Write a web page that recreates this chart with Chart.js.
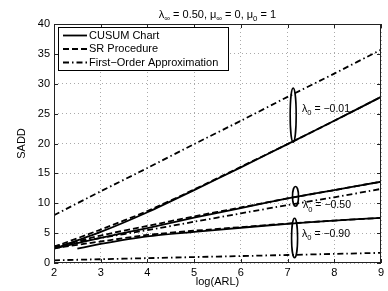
<!DOCTYPE html>
<html>
<head>
<meta charset="utf-8">
<script src="https://cdn.jsdelivr.net/npm/chart.js@4.4.0/dist/chart.umd.min.js"></script>
<style>
  body { margin: 0; background: #fff; }
  #wrap { width: 388px; height: 291px; }
</style>
</head>
<body>
<div id="wrap"><canvas id="myChart" width="388" height="291"></canvas></div>
<script>
// values, log(ARL) on x, SADD on y
var logArl = [2, 3, 4, 5, 6, 7, 8, 9];
var logArlLate = [2.5, 3, 4, 5, 6, 7, 8, 9]; // CUSUM curve for lambda0 = -0.90 starts later

var cusum001 = [2.4, 5.2, 8.5, 12.2, 16.0, 19.9, 23.8, 27.8];
var sr001 = [2.7, 5.6, 8.7, 12.3, 16.1, 19.9, 23.8, 27.8];
var approx001 = [8.0, 12.0, 15.9, 19.9, 23.8, 27.8, 31.7, 35.7];

var cusum050 = [2.4, 4.2, 5.85, 7.6, 9.2, 10.8, 12.2, 13.6];
var sr050 = [2.6, 4.6, 6.2, 7.8, 9.3, 10.8, 12.2, 13.6];
var approx050 = [2.8, 4.2, 5.5, 6.9, 8.3, 9.7, 11.0, 12.4];

var cusum090 = [2.4, 3.2, 4.45, 5.2, 5.9, 6.55, 7.1, 7.55];
var sr090 = [2.5, 3.6, 4.7, 5.4, 6.0, 6.6, 7.1, 7.55];
var approx090 = [0.45, 0.63, 0.81, 0.99, 1.16, 1.34, 1.52, 1.7];

var xRange = [2, 9];
var yRange = [0, 40];
var legendLabels = ['CUSUM Chart', 'SR Procedure', 'First\u2212Order Approximation'];
var groupLabels = ['\u22120.01', '\u22120.50', '\u22120.90'];

var FONT = "'Liberation Sans', Arial, Helvetica, sans-serif";
var DASH = [];
var DASHED = [6, 3];
var DASHDOT = [6, 3, 1.5, 3];

Chart.defaults.font.family = FONT;
Chart.defaults.font.size = 11;
Chart.defaults.color = '#000';

function pts(xs, ys){
  return xs.map(function(x, i){ return {x: x, y: ys[i]}; });
}

function line(data, dash){
  return {
    data: data,
    borderColor: '#000',
    borderWidth: 1.8,
    borderDash: dash,
    pointRadius: 0,
    fill: false,
    tension: 0.25
  };
}

// text with subscripts: parts = [[text, isSub], ...]
function drawRich(ctx, parts, x, y, size, align){
  var subSize = size * 0.72;
  var w = 0;
  parts.forEach(function(p){
    ctx.font = (p[1] ? subSize : size) + 'px ' + FONT;
    w += ctx.measureText(p[0]).width;
  });
  var cx = align === 'center' ? x - w / 2 : x;
  ctx.textAlign = 'left';
  ctx.textBaseline = 'alphabetic';
  parts.forEach(function(p){
    ctx.font = (p[1] ? subSize : size) + 'px ' + FONT;
    ctx.fillText(p[0], cx, p[1] ? y + size * 0.3 : y);
    cx += ctx.measureText(p[0]).width;
  });
}

var notes = [
  {x: 7.12, lo: 20.2, hi: 29.3, tx: 7.31, ty: 25.9},
  {x: 7.17, lo: 9.5, hi: 12.8, tx: 7.33, ty: 9.8},
  {x: 7.15, lo: 0.9, hi: 7.5, tx: 7.31, ty: 5.0}
];

var decor = {
  id: 'decor',
  afterDatasetsDraw: function(chart){
    var ctx = chart.ctx;
    var xs = chart.scales.x, ys = chart.scales.y;
    var a = chart.chartArea;
    ctx.save();
    ctx.fillStyle = '#000';
    ctx.strokeStyle = '#000';

    // ellipses and lambda labels
    notes.forEach(function(n, i){
      var cx = xs.getPixelForValue(n.x);
      var top = ys.getPixelForValue(n.hi), bot = ys.getPixelForValue(n.lo);
      ctx.lineWidth = 1.6;
      ctx.setLineDash([]);
      ctx.beginPath();
      ctx.ellipse(cx, (top + bot) / 2, 3, (bot - top) / 2, 0, 0, Math.PI * 2);
      ctx.stroke();
      drawRich(ctx, [['\u03bb', 0], ['0', 1], [' = ' + groupLabels[i], 0]],
        xs.getPixelForValue(n.tx), ys.getPixelForValue(n.ty) + 4, 10.5, 'left');
    });

    // frame and inner ticks
    ctx.lineWidth = 1;
    ctx.strokeStyle = '#222';
    ctx.strokeRect(a.left + 0.5, a.top + 0.5, a.right - a.left - 1, a.bottom - a.top - 1);
    ctx.beginPath();
    xs.ticks.forEach(function(t){
      var px = Math.round(xs.getPixelForValue(t.value)) + 0.5;
      ctx.moveTo(px, a.bottom); ctx.lineTo(px, a.bottom - 4);
      ctx.moveTo(px, a.top); ctx.lineTo(px, a.top + 4);
    });
    ys.ticks.forEach(function(t){
      var py = Math.round(ys.getPixelForValue(t.value)) + 0.5;
      ctx.moveTo(a.left, py); ctx.lineTo(a.left + 4, py);
      ctx.moveTo(a.right, py); ctx.lineTo(a.right - 4, py);
    });
    ctx.stroke();

    // legend box
    var lx = a.left + 4, ly = a.top + 3, lw = 170, lh = 43;
    ctx.fillStyle = '#fff';
    ctx.fillRect(lx, ly, lw, lh);
    ctx.strokeStyle = '#000';
    ctx.strokeRect(lx + 0.5, ly + 0.5, lw, lh);
    var dashes = [DASH, DASHED, DASHDOT];
    ctx.fillStyle = '#000';
    ctx.font = '11px ' + FONT;
    ctx.textBaseline = 'middle';
    legendLabels.forEach(function(lab, i){
      var ry = ly + 8.5 + i * 13.5;
      ctx.lineWidth = 1.8;
      ctx.setLineDash(dashes[i]);
      ctx.beginPath();
      ctx.moveTo(lx + 5, ry); ctx.lineTo(lx + 29, ry);
      ctx.stroke();
      ctx.setLineDash([]);
      ctx.textAlign = 'left';
      ctx.fillText(lab, lx + 31, ry);
    });

    // title
    ctx.fillStyle = '#000';
    drawRich(ctx, [['\u03bb', 0], ['\u221e', 1], [' = 0.50, \u03bc', 0], ['\u221e', 1],
      [' = 0, \u03bc', 0], ['0', 1], [' = 1', 0]], (a.left + a.right) / 2, 18, 11, 'center');
    ctx.restore();
  }
};

var ctx = document.getElementById('myChart').getContext('2d');
var myChart = new Chart(ctx, {
  type: 'line',
  data: {
    datasets: [
      line(pts(logArl, approx001), DASHDOT),
      line(pts(logArl, sr001), DASHED),
      line(pts(logArl, cusum001), DASH),
      line(pts(logArl, approx050), DASHDOT),
      line(pts(logArl, sr050), DASHED),
      line(pts(logArl, cusum050), DASH),
      line(pts(logArl, approx090), DASHDOT),
      line(pts(logArl, sr090), DASHED),
      line(pts(logArlLate, cusum090), DASH)
    ]
  },
  options: {
    responsive: false,
    animation: false,
    devicePixelRatio: 1,
    layout: { padding: { top: 24, right: 7, left: 0, bottom: 0 } },
    plugins: { legend: { display: false }, title: { display: false }, tooltip: { enabled: false } },
    scales: {
      x: {
        type: 'linear',
        min: xRange[0], max: xRange[1],
        ticks: { stepSize: 1, padding: 3, maxRotation: 0, font: { size: 11 } },
        grid: { color: '#aaa', lineWidth: 1, drawTicks: false },
        border: { display: false, dash: [1, 3] },
        title: { display: true, text: 'log(ARL)', font: { size: 11 }, padding: { top: 0, bottom: 2 } },
        afterFit: function(s){ s.height = 28; }
      },
      y: {
        type: 'linear',
        min: yRange[0], max: yRange[1],
        ticks: { stepSize: 5, padding: 4, font: { size: 11 } },
        grid: { color: '#aaa', lineWidth: 1, drawTicks: false },
        border: { display: false, dash: [1, 3] },
        title: { display: true, text: 'SADD', font: { size: 11 }, padding: { top: 15, bottom: 0 } },
        afterFit: function(s){ s.width = 54; }
      }
    }
  },
  plugins: [decor]
});
</script>
</body>
</html>
